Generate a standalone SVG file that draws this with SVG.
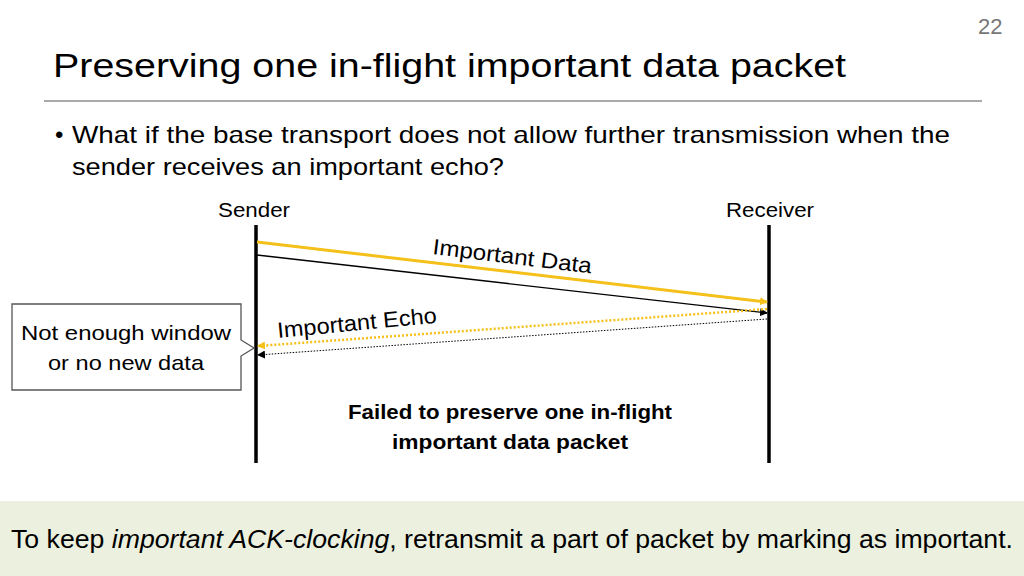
<svg xmlns="http://www.w3.org/2000/svg" width="1024" height="576" viewBox="0 0 1024 576">
<style>
text{font-family:"Liberation Sans",Arial,sans-serif;fill:#000}
.ll{stroke:#000;stroke-width:3.5}
</style>
<defs>
<marker id="ay" markerWidth="8" markerHeight="8" refX="7" refY="4" orient="auto" markerUnits="userSpaceOnUse"><path d="M0,0L8,4L0,8z" fill="#f5c01a"/></marker>
<marker id="ak" markerWidth="8" markerHeight="8" refX="7" refY="4" orient="auto" markerUnits="userSpaceOnUse"><path d="M0,0L8,4L0,8z" fill="#000"/></marker>
</defs>
<rect width="1024" height="576" fill="#fff"/>
<text x="978" y="34" font-size="22" style="fill:#777">22</text>
<text x="53" y="77" font-size="34" textLength="793" lengthAdjust="spacingAndGlyphs">Preserving one in-flight important data packet</text>
<line x1="44" y1="101" x2="982" y2="101" stroke="#555" stroke-width="1"/>
<text x="55" y="143" font-size="24">•</text>
<text x="72" y="143" font-size="24" textLength="878" lengthAdjust="spacingAndGlyphs">What if the base transport does not allow further transmission when the</text>
<text x="72" y="175" font-size="24" textLength="432" lengthAdjust="spacingAndGlyphs">sender receives an important echo?</text>
<g id="sender"><text x="254" y="217" font-size="20" text-anchor="middle" textLength="72" lengthAdjust="spacingAndGlyphs">Sender</text><line class="ll" x1="256" y1="225" x2="256" y2="463"/></g>
<g id="receiver"><text x="770" y="217" font-size="20" text-anchor="middle" textLength="88" lengthAdjust="spacingAndGlyphs">Receiver</text><line class="ll" x1="769" y1="225" x2="769" y2="463"/></g>
<g id="connectors">
<line x1="257" y1="242" x2="767" y2="302" stroke="#f5c01a" stroke-width="3" marker-end="url(#ay)"/>
<line x1="257" y1="255" x2="767" y2="313" stroke="#000" stroke-width="1.3" marker-end="url(#ak)"/>
<line x1="767" y1="309" x2="258" y2="346" stroke="#f5c01a" stroke-width="2.5" stroke-dasharray="2,2" marker-end="url(#ay)"/>
<line x1="767" y1="319" x2="258" y2="355" stroke="#000" stroke-width="1" stroke-dasharray="1.5,1.5" marker-end="url(#ak)"/>
</g>
<text font-size="22" transform="translate(432,254) rotate(7)" textLength="160" lengthAdjust="spacingAndGlyphs">Important Data</text>
<text font-size="22" transform="translate(278,338) rotate(-5.5)" textLength="160" lengthAdjust="spacingAndGlyphs">Important Echo</text>
<g id="callout">
<path d="M12,304H241V340L254,348L241,356V390H12Z" fill="#fff" stroke="#555" stroke-width="1.3"/>
<text x="126" y="340" font-size="21" text-anchor="middle" textLength="210" lengthAdjust="spacingAndGlyphs">Not enough window</text>
<text x="126" y="370" font-size="21" text-anchor="middle" textLength="156" lengthAdjust="spacingAndGlyphs">or no new data</text>
</g>
<text x="510" y="419" font-size="20" font-weight="bold" text-anchor="middle" textLength="324" lengthAdjust="spacingAndGlyphs">Failed to preserve one in-flight</text>
<text x="510" y="449" font-size="20" font-weight="bold" text-anchor="middle" textLength="236" lengthAdjust="spacingAndGlyphs">important data packet</text>
<rect x="0" y="501" width="1024" height="75" fill="#ebf1de"/>
<text x="512" y="548" font-size="25" text-anchor="middle" textLength="1002" lengthAdjust="spacingAndGlyphs">To keep <tspan font-style="italic">important ACK-clocking</tspan>, retransmit a part of packet by marking as important.</text>
</svg>
